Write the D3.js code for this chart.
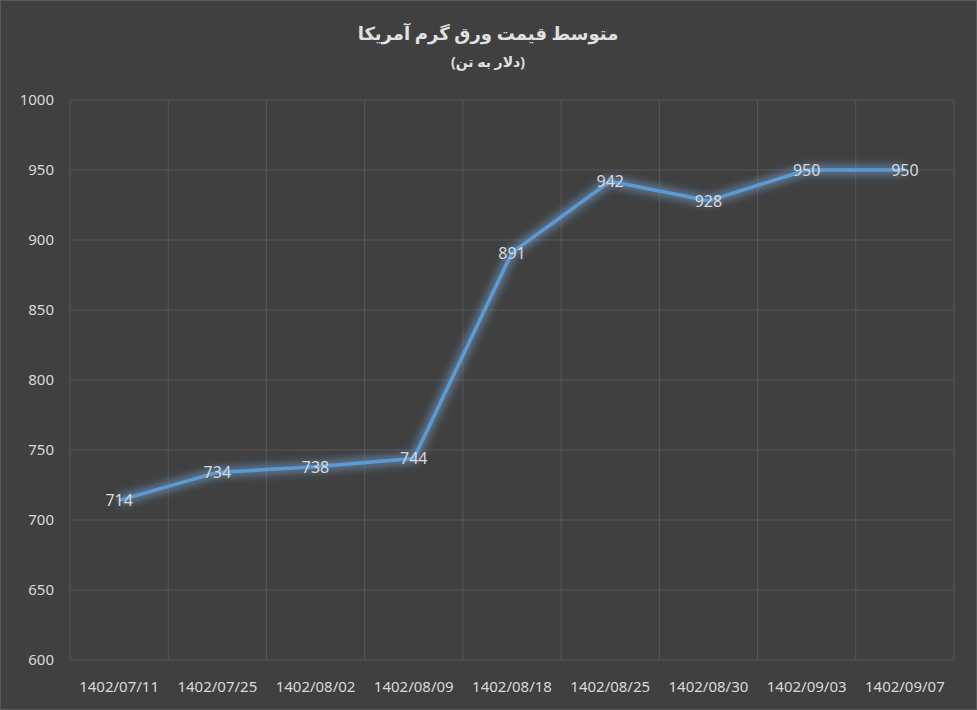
<!DOCTYPE html><html><head><meta charset="utf-8">
<script src="https://cdn.jsdelivr.net/npm/d3@7"></script>
<style>body{margin:0;background:#404040}text{font-family:"Noto Sans","DejaVu Sans",sans-serif}</style></head><body>
<svg id="c" width="977" height="710"></svg>
<script>
const categories=["1402/07/11","1402/07/25","1402/08/02","1402/08/09","1402/08/18","1402/08/25","1402/08/30","1402/09/03","1402/09/07"];
const values=[714,734,738,744,891,942,928,950,950];
const yTicks=[600,650,700,750,800,850,900,950,1000];
const title="متوسط قیمت ورق گرم آمریکا";
const subtitle="(دلار به تن)";
const svg=d3.select("#c");
svg.append("rect").attr("width",977).attr("height",710).attr("fill","#404040");
const x=d3.scaleBand().domain(categories).range([70,954]);
const y=d3.scaleLinear().domain([600,1000]).range([660,100]);
const g=svg.append("g");
g.selectAll(".h").data(yTicks).join("line").attr("x1",70).attr("x2",954).attr("y1",d=>y(d)).attr("y2",d=>y(d)).attr("stroke","#575757");
g.selectAll(".v").data(categories.concat([null])).join("line").attr("x1",(d,i)=>70+i*x.bandwidth()).attr("x2",(d,i)=>70+i*x.bandwidth()).attr("y1",100).attr("y2",660).attr("stroke","#575757");
g.selectAll(".yt").data(yTicks).join("text").attr("x",54).attr("y",d=>y(d)+5).attr("text-anchor","end").attr("fill","#d9d9d9").attr("font-size",15).text(d=>d);
g.selectAll(".xt").data(categories).join("text").attr("x",d=>x(d)+x.bandwidth()/2).attr("y",692).attr("text-anchor","middle").attr("fill","#d9d9d9").attr("font-size",15).text(d=>d);
const defs=svg.append("defs");
const f=defs.append("filter").attr("id","glow").attr("x","-20%").attr("y","-20%").attr("width","140%").attr("height","140%");
f.append("feGaussianBlur").attr("stdDeviation",4);
const line=d3.line().x((d,i)=>x(categories[i])+x.bandwidth()/2).y(d=>y(d));
svg.append("path").datum(values).attr("d",line).attr("fill","none").attr("stroke","#7fb3ea").attr("stroke-width",9).attr("opacity",0.55).attr("filter","url(#glow)");
svg.append("path").datum(values).attr("d",line).attr("fill","none").attr("stroke","#5b9bd5").attr("stroke-width",3.5).attr("stroke-linejoin","round");
svg.selectAll(".lb").data(values).join("text").attr("x",(d,i)=>x(categories[i])+x.bandwidth()/2).attr("y",d=>y(d)+6).attr("text-anchor","middle").attr("fill","#d9d9d9").attr("font-size",16).text(d=>d);
svg.append("text").attr("x",488).attr("y",40).attr("text-anchor","middle").attr("fill","#e0e0e0").attr("font-size",18).attr("font-weight","bold").attr("direction","rtl").text(title);
svg.append("text").attr("x",488).attr("y",67).attr("text-anchor","middle").attr("fill","#e0e0e0").attr("font-size",14).attr("font-weight","bold").attr("direction","rtl").text(subtitle);
svg.append("rect").attr("x",0.5).attr("y",0.5).attr("width",976).attr("height",709).attr("fill","none").attr("stroke","#595959");
</script></body></html>
